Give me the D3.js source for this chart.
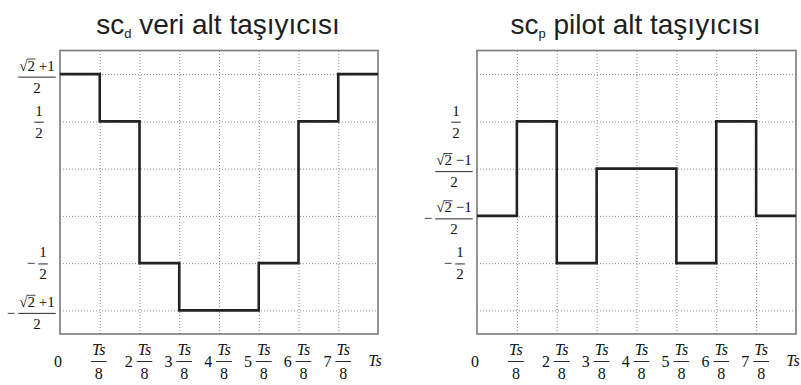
<!DOCTYPE html>
<html><head><meta charset="utf-8">
<script src="https://cdn.jsdelivr.net/npm/d3@7"></script>
<style>body{margin:0;background:#fff}</style>
</head><body>
<svg id="c" width="801" height="385" xmlns="http://www.w3.org/2000/svg"></svg>
<script>
// ---- data ----
const yLevels = ["(√2+1)/2", "1/2", "(√2−1)/2", "−(√2−1)/2", "−1/2", "−(√2+1)/2"];
const xSteps = [0, 1, 2, 3, 4, 5, 6, 7, 8];
const xTickLabels = ["0", "Ts/8", "2 Ts/8", "3 Ts/8", "4 Ts/8", "5 Ts/8", "6 Ts/8", "7 Ts/8", "Ts"];
const scdValues = ["(√2+1)/2", "1/2", "−1/2", "−(√2+1)/2", "−(√2+1)/2", "−1/2", "1/2", "(√2+1)/2"];
const scpValues = ["−(√2−1)/2", "1/2", "−1/2", "(√2−1)/2", "(√2−1)/2", "−1/2", "1/2", "−(√2−1)/2"];
const scdYTicks = ["(√2+1)/2", "1/2", "−1/2", "−(√2+1)/2"];
const scpYTicks = ["1/2", "(√2−1)/2", "−(√2−1)/2", "−1/2"];
const scdTitle = ["sc", "d", " veri alt taşıyıcısı"];
const scpTitle = ["sc", "p", " pilot alt taşıyıcısı"];

const svg = d3.select("#c");
const SERIF = '"Liberation Serif"';
const SANS = '"Liberation Sans"';

function stext(g, str, size, italic) {
  return g.append("text").style("font-family", SERIF).style("font-size", size + "px")
    .style("font-style", italic ? "italic" : "normal").attr("fill", "#111").text(str);
}
function textWidth(g, str, size, italic) {
  const t = stext(g, str, size, italic).style("white-space", "pre");
  const w = t.node().getComputedTextLength();
  t.remove();
  return w;
}

function drawFraction(g, cx, barY, num, den, size) {
  const fs = size;
  let numW;
  const isSqrt = num.startsWith("√");
  if (isSqrt) {
    const rad = "√", two = "2", rest = " " + num.slice(2);
    const wr = textWidth(g, rad, fs), w2 = textWidth(g, two, fs), w3 = textWidth(g, rest, fs);
    numW = wr + w2 + w3;
    const x = cx - numW / 2;
    const nb = barY - 6.5;
    stext(g, rad, fs).attr("x", x).attr("y", nb);
    g.append("line").attr("x1", x + wr - 0.6).attr("x2", x + wr + w2 + 0.5)
      .attr("y1", nb - 11.6).attr("y2", nb - 11.6).attr("stroke", "#111").attr("stroke-width", 0.8);
    stext(g, two, fs).attr("x", x + wr).attr("y", nb);
    stext(g, rest, fs).attr("x", x + wr + w2).attr("y", nb).style("white-space", "pre");
  } else {
    numW = textWidth(g, num, fs);
    stext(g, num, fs).attr("x", cx).attr("y", barY - 6.5).attr("text-anchor", "middle");
  }
  const denW = textWidth(g, den, fs);
  const barW = Math.max(numW, denW) + 2;
  g.append("line").attr("x1", cx - barW / 2).attr("x2", cx + barW / 2)
    .attr("y1", barY).attr("y2", barY).attr("stroke", "#111").attr("stroke-width", 0.9);
  stext(g, den, fs).attr("x", cx).attr("y", barY + 15.5).attr("text-anchor", "middle");
  return barW;
}

function drawYLabel(g, label, plotLeft, yPos) {
  const neg = label.startsWith("−");
  const core = neg ? label.slice(1) : label;
  const m = core.replace(/[()]/g, "").split("/");
  const num = m[0], den = m[1];
  const isSqrt = num.startsWith("√");
  const cx = isSqrt ? plotLeft - 23 : plotLeft - (neg ? 17 : 21);
  const barY = yPos + (isSqrt ? 3 : 0.8);
  const barW = drawFraction(g, cx, barY, num, den, 15);
  if (neg) {
    stext(g, "−", 15).attr("x", cx - barW / 2 - 3).attr("y", barY + 4.5).attr("text-anchor", "end");
  }
}

function drawXLabel(g, label, xc) {
  const baseY = 366.5;
  const barY = 361.5;
  if (label === "0") {
    stext(g, "0", 16).attr("x", xc - 2).attr("y", baseY).attr("text-anchor", "middle");
    return;
  }
  if (label === "Ts") {
    stext(g, "Ts", 16, true).attr("x", xc - 3).attr("y", baseY - 1).attr("text-anchor", "middle");
    return;
  }
  const parts = label.split(" ");
  const coef = parts.length > 1 ? parts[0] : null;
  const frac = parts[parts.length - 1].split("/");
  const numW = textWidth(g, frac[0], 16, true);
  const barW = numW + 2;
  const coefW = coef ? textWidth(g, coef, 16) + 4 : 0;
  const total = coefW + barW;
  const left = xc - 1 - total / 2;
  if (coef) stext(g, coef, 16).attr("x", left).attr("y", baseY);
  const fcx = left + coefW + barW / 2;
  stext(g, frac[0], 16, true).attr("x", fcx).attr("y", barY - 6.5).attr("text-anchor", "middle");
  g.append("line").attr("x1", fcx - barW / 2).attr("x2", fcx + barW / 2)
    .attr("y1", barY).attr("y2", barY).attr("stroke", "#111").attr("stroke-width", 0.9);
  stext(g, frac[1], 16).attr("x", fcx).attr("y", barY + 17.5).attr("text-anchor", "middle");
}

function panel(x0, x1, values, yTicks, title) {
  const top = 50.5, bottom = 334;
  const g = svg.append("g");
  const x = d3.scaleLinear().domain([0, 8]).range([x0, x1]);
  const y = d3.scalePoint().domain(yLevels).range([top, bottom]).padding(0.5);

  const gx = g.append("g").attr("transform", `translate(0,${bottom})`)
    .call(d3.axisBottom(x).tickValues(xSteps.slice(1, 8)).tickSize(-(bottom - top)).tickFormat(""));
  const gy = g.append("g").attr("transform", `translate(${x0},0)`)
    .call(d3.axisLeft(y).tickSize(-(x1 - x0)).tickFormat(""));
  [gx, gy].forEach(a => {
    a.select(".domain").remove();
    a.selectAll(".tick line").attr("stroke", "#8a8a8a").attr("stroke-width", 1)
      .attr("stroke-dasharray", "1,2");
  });

  g.append("rect").attr("x", x0).attr("y", top).attr("width", x1 - x0).attr("height", bottom - top)
    .attr("fill", "none").attr("stroke", "#7a7a7a").attr("stroke-width", 1.6);

  const pts = values.map((v, i) => [i, v]).concat([[8, values[values.length - 1]]]);
  const line = d3.line().x(d => x(d[0])).y(d => y(d[1])).curve(d3.curveStepAfter);
  g.append("path").attr("d", line(pts)).attr("fill", "none").attr("stroke", "#222")
    .attr("stroke-width", 2.6).attr("stroke-linejoin", "miter");

  yTicks.forEach(t => drawYLabel(g, t, x0, y(t)));
  xTickLabels.forEach((t, i) => drawXLabel(g, t, x(xSteps[i])));

  const tt = g.append("text").style("font-family", SANS).attr("x", (x0 + x1) / 2 - 1).attr("y", 34)
    .attr("text-anchor", "middle").style("font-size", "28px").attr("fill", "#1e1e1e");
  tt.append("tspan").text(title[0]);
  tt.append("tspan").style("font-size", "13px").attr("dy", 3.5).text(title[1]);
  tt.append("tspan").attr("dy", -3.5).text(title[2]);
}

panel(60, 378, scdValues, scdYTicks, scdTitle);
panel(477, 796, scpValues, scpYTicks, scpTitle);
</script>
</body></html>
